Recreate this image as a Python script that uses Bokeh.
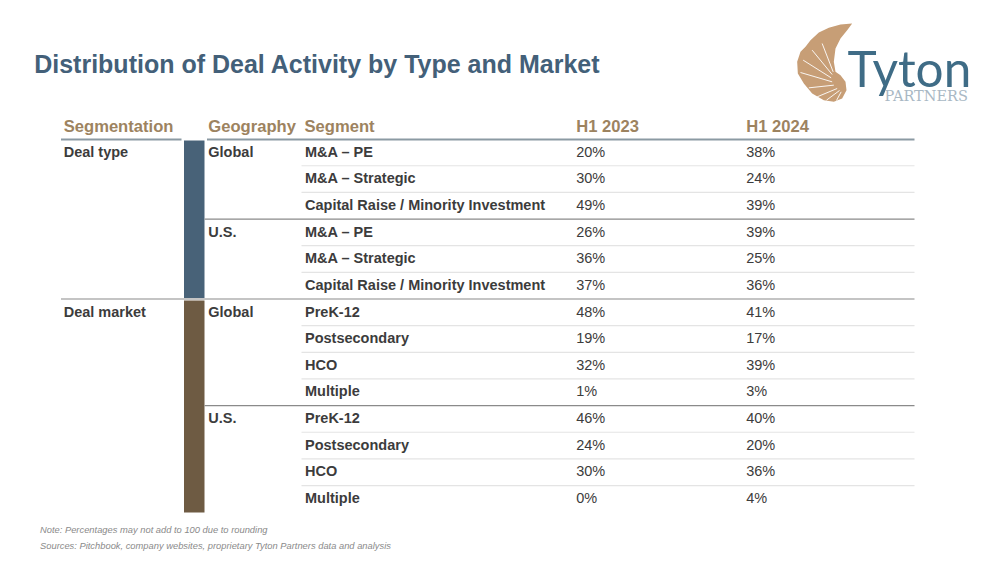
from bokeh.plotting import figure
from bokeh.models import Range1d, ColumnDataSource
from bokeh.core.properties import value
from bokeh.embed import file_html
from bokeh.resources import INLINE

# ---------- data ----------
title = "Distribution of Deal Activity by Type and Market"
headers = ["Segmentation", "Geography", "Segment", "H1 2023", "H1 2024"]
segments = ["M&A – PE", "M&A – Strategic", "Capital Raise / Minority Investment",
            "M&A – PE", "M&A – Strategic", "Capital Raise / Minority Investment",
            "PreK-12", "Postsecondary", "HCO", "Multiple",
            "PreK-12", "Postsecondary", "HCO", "Multiple"]
h1_2023 = [20, 30, 49, 26, 36, 37, 48, 19, 32, 1, 46, 24, 30, 0]
h1_2024 = [38, 24, 39, 39, 25, 36, 41, 17, 39, 3, 40, 20, 36, 4]
# (first row, label)
segmentation_groups = [(0, "Deal type"), (6, "Deal market")]
geography_groups = [(0, "Global"), (3, "U.S."), (6, "Global"), (10, "U.S.")]
notes = ["Note: Percentages may not add to 100 due to rounding",
         "Sources: Pitchbook, company websites, proprietary Tyton Partners data and analysis"]

# ---------- layout / style ----------
FONT = value("Liberation Sans")
ROW0, ROWH = 138.6, 26.65
X_SEG, X_GEO, X_NAME, X_A, X_B, X_END = 63.2, 207.8, 304, 575.7, 745.7, 914
TEXT_DY = -0.8
BLUE, BROWN, TAN, INK = "#486278", "#6e5b43", "#9d8360", "#3c3c3c"
def row_mid(i): return ROW0 + ROWH * (i + 0.5) + TEXT_DY
def row_top(i): return ROW0 + ROWH * i

p = figure(width=984, height=555, output_backend="svg", toolbar_location=None,
           x_range=Range1d(0, 984), y_range=Range1d(555, 0),
           min_border=0, outline_line_color=None)
p.axis.visible = False
p.grid.visible = False

def label(x, y, texts, size, color, style="normal"):
    src = ColumnDataSource(dict(x=x, y=y, t=texts))
    p.text("x", "y", text="t", source=src, text_font=FONT, text_font_size=size,
           text_color=color, text_font_style=style, text_baseline="middle", text_align="left")

# title
label([33.7], [63.2], [title], "25px", "#436079", "bold")

# header
label([X_SEG, X_GEO, X_NAME, X_A, X_B], [125.6] * 5, headers, "16.6px", TAN, "bold")
p.segment([60.5, 206.5], [139, 139], [181, X_END], [139, 139], line_color="#8b9aa3", line_width=2)

# side bars
p.quad(left=[183.5], right=[204], top=[row_top(0) + 1.5], bottom=[row_top(6) - 1], fill_color=BLUE, line_color=None)
p.quad(left=[183.5], right=[204], top=[row_top(6) + 1.5], bottom=[512], fill_color=BROWN, line_color=None)

# separators
starts = {g[0] for g in geography_groups}
light = [i for i in range(1, len(segments)) if i not in starts]
p.segment([301] * len(light), [row_top(i) for i in light], [X_END] * len(light), [row_top(i) for i in light],
          line_color="#e4e4e4", line_width=1.2)
p.segment([204, 60.5, 204], [row_top(3), row_top(6), row_top(10)], [X_END] * 3, [row_top(3), row_top(6), row_top(10)],
          line_color="#8a8a8a", line_width=1.2)

# rows
mids = [row_mid(i) for i in range(len(segments))]
label([X_NAME + 0.5] * len(segments), mids, segments, "14.5px", INK, "bold")
label([X_A] * len(segments), mids, [f"{v}%" for v in h1_2023], "14.5px", INK)
label([X_B] * len(segments), mids, [f"{v}%" for v in h1_2024], "14.5px", INK)
label([X_SEG] * 2, [row_mid(g[0]) for g in segmentation_groups], [g[1] for g in segmentation_groups], "14.5px", INK, "bold")
label([X_GEO] * 4, [row_mid(g[0]) for g in geography_groups], [g[1] for g in geography_groups], "14.5px", INK, "bold")

# notes
label([39.5, 39.5], [529.2, 545.7], notes, "9.35px", "#8a8a8a", "italic")

# logo: shell
shell = [(185,15),(150,18),(115,28),(85,42),(60,65),(45,85),(30,100),(20,130),(22,165),(40,195),(65,225),
         (100,245),(130,250),(155,240),(168,215),(165,190),(150,170),(135,160),(130,130),(135,90),(150,60),(170,35)]
def zx(v): return 790 + v / 3
def zy(v): return 18 + v / 3
p.patch([zx(a) for a, b in shell], [zy(b) for a, b in shell], fill_color="#c79e76", line_color=None)
ribs = [((95,75),(128,160)),((65,95),(125,168)),((38,125),(122,178)),((30,162),(125,190)),((55,208),(130,200)),
        ((80,235),(140,210)),((108,245),(147,216)),((138,246),(152,220))]
p.segment([zx(a[0]) for a, b in ribs], [zy(a[1]) for a, b in ribs], [zx(b[0]) for a, b in ribs], [zy(b[1]) for a, b in ribs],
          line_color="white", line_width=0.9)
# logo: wordmark
p.text([847], [67], text=["Tyton"], text_font=value("Lato"), text_font_size="49.5px", text_color="#3f6c86",
       text_baseline="middle", text_align="left")
p.text([884], [95], text=["PARTNERS"], text_font=value("DejaVu Serif"), text_font_size="14.5px", text_color="#a9b8c4",
       text_baseline="middle", text_align="left")

open("out.html", "w").write(file_html(p, INLINE))
